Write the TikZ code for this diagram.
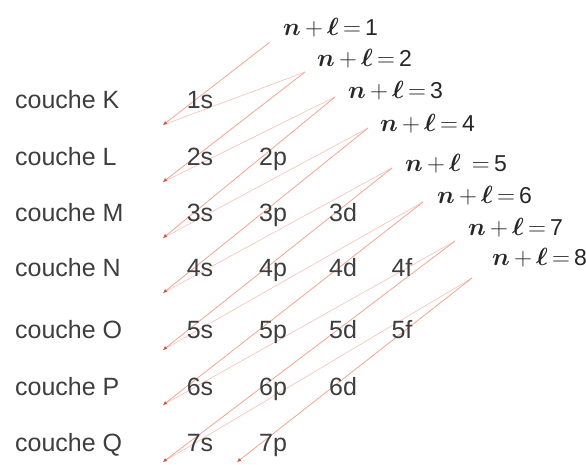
\documentclass[tikz,border=0pt]{standalone}
\usepackage{fontspec}
\setmainfont{Liberation Sans}
\usepackage{bm}
\usetikzlibrary{arrows.meta}
\definecolor{flechecol}{RGB}{242, 165, 145}
\definecolor{retourcol}{RGB}{246, 198, 192}
\definecolor{pointecol}{RGB}{212, 80, 72}
\definecolor{textecol}{RGB}{62, 62, 62}

\tikzset{
    couche/.style={anchor=west, inner sep=0pt, text=textecol,
                   font=\fontsize{25}{28}\selectfont, text height=17pt, text depth=0pt},
    orbit/.style={inner sep=0pt, text=textecol,
                  font=\fontsize{25}{28}\selectfont, text height=17pt, text depth=0pt},
    somme/.style={anchor=west, inner sep=0pt, text=black!85,
                  font=\fontsize{23}{26}\selectfont, text height=16pt, text depth=0pt},
    fleche/.style={draw=flechecol, line width=0.8pt,
                   -{Latex[length=4pt, width=4pt, color=pointecol]}},
    retour/.style={draw=retourcol, line width=0.7pt}
}
\newcommand{\nl}[1]{$\bm{n}\,{+}\,\bm{\ell}\,{=}\,\mbox{#1}$}

\begin{document}
\begin{tikzpicture}[x=1pt, y=-1pt]
    \useasboundingbox (0, 0) rectangle (586, 464);

    % depart des fleches (en haut a droite)
    \coordinate (t1) at (270, 42);
    \coordinate (t2) at (305, 72);
    \coordinate (t3) at (335, 97);
    \coordinate (t4) at (368, 128);
    \coordinate (t5) at (392, 168);
    \coordinate (t6) at (423, 202);
    \coordinate (t7) at (455, 241);
    \coordinate (t8) at (472, 278);
    % pointes des fleches (en bas a gauche)
    \coordinate (h1) at (163, 125);
    \coordinate (h2) at (163, 182);
    \coordinate (h3) at (163, 238);
    \coordinate (h4) at (163, 293);
    \coordinate (h5) at (163, 350);
    \coordinate (h6) at (163, 405);
    \coordinate (h7) at (163, 462);
    \coordinate (h8) at (237, 462);

    % traits de retour
    \foreach \a/\b in {1/2, 2/3, 3/4, 4/5, 5/6, 6/7, 7/8}
        \draw[retour] (h\a) -- (t\b);
    % diagonales n + l
    \foreach \k in {1, ..., 8}
        \draw[fleche] (t\k) -- (h\k);

    % couches
    \node[couche] (cK) at (15, 100) {couche K};
    \node[couche] (cL) at (15, 157) {couche L};
    \node[couche] (cM) at (15, 213) {couche M};
    \node[couche] (cN) at (15, 268) {couche N};
    \node[couche] (cO) at (15, 330) {couche O};
    \node[couche] (cP) at (15, 387) {couche P};
    \node[couche] (cQ) at (15, 443) {couche Q};

    % sous-couches
    \node[orbit] (o1s) at (200, 100) {1s};
    \node[orbit] (o2s) at (200, 157) {2s};
    \node[orbit] (o2p) at (273, 157) {2p};
    \node[orbit] (o3s) at (200, 213) {3s};
    \node[orbit] (o3p) at (273, 213) {3p};
    \node[orbit] (o3d) at (343, 213) {3d};
    \node[orbit] (o4s) at (200, 268) {4s};
    \node[orbit] (o4p) at (273, 268) {4p};
    \node[orbit] (o4d) at (343, 268) {4d};
    \node[orbit] (o4f) at (402, 268) {4f};
    \node[orbit] (o5s) at (200, 330) {5s};
    \node[orbit] (o5p) at (273, 330) {5p};
    \node[orbit] (o5d) at (343, 330) {5d};
    \node[orbit] (o5f) at (402, 330) {5f};
    \node[orbit] (o6s) at (200, 387) {6s};
    \node[orbit] (o6p) at (273, 387) {6p};
    \node[orbit] (o6d) at (343, 387) {6d};
    \node[orbit] (o7s) at (200, 443) {7s};
    \node[orbit] (o7p) at (273, 443) {7p};

    % valeurs de n + l
    \node[somme] (nl1) at (283, 27) {\nl{1}};
    \node[somme] (nl2) at (317, 58) {\nl{2}};
    \node[somme] (nl3) at (348, 90) {\nl{3}};
    \node[somme] (nl4) at (380, 123) {\nl{4}};
    \node[somme] (nl5) at (405, 163) {$\bm{n}\,{+}\,\bm{\ell}\;\,{=}\,\mbox{5}$};
    \node[somme] (nl6) at (437, 195) {\nl{6}};
    \node[somme] (nl7) at (468, 227) {\nl{7}};
    \node[somme] (nl8) at (492, 257) {\nl{8}};
\end{tikzpicture}
\end{document}
